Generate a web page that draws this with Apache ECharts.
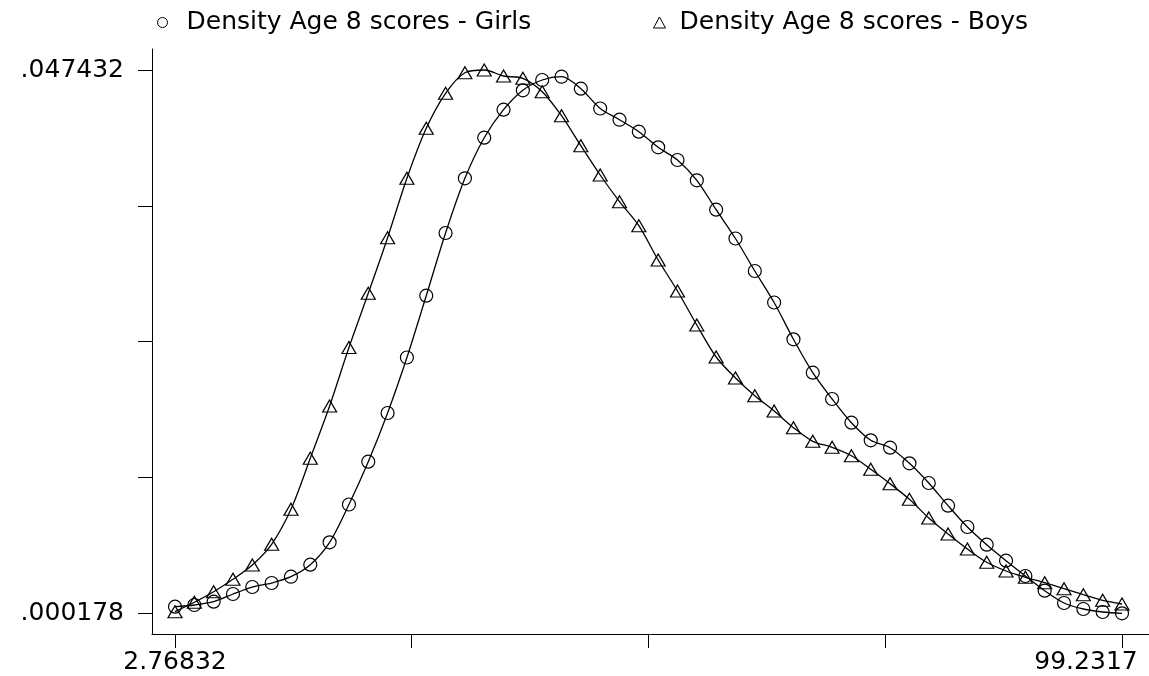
<!DOCTYPE html>
<html>
<head>
<meta charset="utf-8">
<script src="https://cdn.jsdelivr.net/npm/echarts@6/dist/echarts.min.js"></script>
<style>html,body{margin:0;padding:0;background:#fff;}#c{width:1149px;height:676px;}</style>
</head>
<body>
<div id="c"></div>
<script>
var seriesNames = ['Density Age 8 scores - Girls', 'Density Age 8 scores - Boys'];
var scores = [2.76832, 4.73696, 6.70560, 8.67424, 10.64288, 12.61152, 14.58016, 16.54880, 18.51744, 20.48608,
  22.45472, 24.42336, 26.39200, 28.36064, 30.32928, 32.29792, 34.26656, 36.23520, 38.20384, 40.17248,
  42.14112, 44.10976, 46.07840, 48.04704, 50.01568, 51.98432, 53.95296, 55.92160, 57.89024, 59.85888,
  61.82752, 63.79616, 65.76480, 67.73344, 69.70208, 71.67072, 73.63936, 75.60800, 77.57664, 79.54528,
  81.51392, 83.48256, 85.45120, 87.41984, 89.38848, 91.35712, 93.32576, 95.29440, 97.26304, 99.2317];
var densityGirls = [0.000752, 0.000900, 0.001187, 0.001857, 0.002465, 0.002813, 0.003361, 0.004405, 0.006353, 0.009641,
  0.013364, 0.017599, 0.022426, 0.027802, 0.033255, 0.038013, 0.041544, 0.043979, 0.045666, 0.046562,
  0.046849, 0.045806, 0.044083, 0.043109, 0.042066, 0.040709, 0.039604, 0.037839, 0.035282, 0.032777,
  0.029950, 0.027210, 0.024009, 0.021105, 0.018817, 0.016756, 0.015225, 0.014581, 0.013224, 0.011511,
  0.009537, 0.007684, 0.006145, 0.004753, 0.003422, 0.002144, 0.001074, 0.000552, 0.000291, 0.000178];
var densityBoys = [0.000317, 0.001135, 0.002057, 0.003135, 0.004379, 0.006179, 0.009224, 0.013659, 0.018208, 0.023296,
  0.028010, 0.032846, 0.038013, 0.042361, 0.045406, 0.047197, 0.047432, 0.046911, 0.046710, 0.045545,
  0.043457, 0.040848, 0.038300, 0.035978, 0.033890, 0.030907, 0.028211, 0.025253, 0.022470, 0.020644,
  0.019104, 0.017773, 0.016321, 0.015138, 0.014616, 0.013885, 0.012703, 0.011450, 0.010093, 0.008467,
  0.007075, 0.005771, 0.004614, 0.003857, 0.003309, 0.002839, 0.002318, 0.001796, 0.001309, 0.000987];
var xTickValues = [2.76832, 26.88416, 51.00001, 75.11585, 99.2317];
var xLabelValues = [2.76832, 99.2317];
var xTickLabels = ['2.76832', '99.2317'];
var yTickValues = [0.000178, 0.0119915, 0.023805, 0.0356185, 0.047432];
var yLabelValues = [0.000178, 0.047432];
var yTickLabels = ['.000178', '.047432'];

function pairs(xs, ys) { return xs.map(function (x, i) { return [x, ys[i]]; }); }
function labelFor(vals, labels, v) {
  var best = 0, d = Infinity;
  vals.forEach(function (t, i) { var dd = Math.abs(t - v); if (dd < d) { d = dd; best = i; } });
  return labels[best];
}
var FONT = 'DejaVu Sans';
var chart = echarts.init(document.getElementById('c'), null, { renderer: 'canvas' });
chart.setOption({
  animation: false,
  backgroundColor: '#fff',
  grid: { left: 152, right: 0, top: 49, bottom: 42, containLabel: false, outerBoundsMode: 'none' },
  legend: [
    { data: [seriesNames[0]], left: 157, top: 10, padding: 0, icon: 'circle', itemWidth: 10, itemHeight: 10,
      itemStyle: { color: '#fff', borderColor: '#000', borderWidth: 1 },
      textStyle: { fontFamily: FONT, fontSize: 25, color: '#000', padding: [0, 0, 0, 14] }, selectedMode: false },
    { data: [seriesNames[1]], left: 653, top: 10, padding: 0, icon: 'triangle', itemWidth: 12, itemHeight: 11,
      itemStyle: { color: '#fff', borderColor: '#000', borderWidth: 1 },
      textStyle: { fontFamily: FONT, fontSize: 25, color: '#000', padding: [0, 0, 0, 9] }, selectedMode: false }
  ],
  xAxis: {
    type: 'value', min: 0.4255, max: 101.982,
    axisLine: { show: true, onZero: false, lineStyle: { color: '#000', width: 1 } },
    axisTick: { show: true, length: 14, customValues: xTickValues, lineStyle: { color: '#000', width: 1 } },
    axisLabel: {
      customValues: xLabelValues, margin: 16, color: '#000', fontFamily: FONT, fontSize: 25,
      formatter: function (v) {
        var s = labelFor(xLabelValues, xTickLabels, v);
        return s === xTickLabels[xTickLabels.length - 1] ? s + '{sp| }' : s;
      },
      rich: { sp: { width: 72, fontSize: 25, fontFamily: FONT } }
    },
    splitLine: { show: false }
  },
  yAxis: {
    type: 'value', min: -0.0016224, max: 0.0492585,
    axisLine: { show: true, onZero: false, lineStyle: { color: '#000', width: 1 } },
    axisTick: { show: true, length: 14, customValues: yTickValues, lineStyle: { color: '#000', width: 1 } },
    axisLabel: {
      customValues: yLabelValues, margin: 28, color: '#000', fontFamily: FONT, fontSize: 25,
      padding: [10, 0, 0, 0],
      formatter: function (v) { return labelFor(yLabelValues, yTickLabels, v); }
    },
    splitLine: { show: false }
  },
  series: [
    { name: seriesNames[0], type: 'line', data: pairs(scores, densityGirls), smooth: 0.3,
      symbol: 'circle', symbolSize: 13, showAllSymbol: true,
      itemStyle: { color: 'rgba(0,0,0,0)', borderColor: '#000', borderWidth: 1.2 },
      lineStyle: { color: '#000', width: 1.3 }, emphasis: { disabled: true } },
    { name: seriesNames[1], type: 'line', data: pairs(scores, densityBoys), smooth: 0.3,
      symbol: 'triangle', symbolSize: [14, 12], showAllSymbol: true,
      itemStyle: { color: 'rgba(0,0,0,0)', borderColor: '#000', borderWidth: 1.2 },
      lineStyle: { color: '#000', width: 1.3 }, emphasis: { disabled: true } }
  ]
});
</script>
</body>
</html>
